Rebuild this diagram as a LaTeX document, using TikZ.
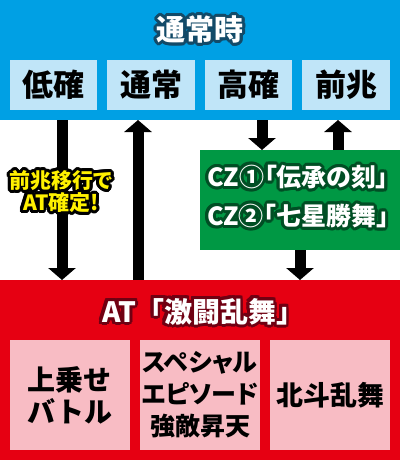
\documentclass[tikz,border=0pt]{standalone}
\usepackage{fontspec}
\usepackage{contour}
\usetikzlibrary{arrows.meta}
\newfontfamily\jp{Noto Sans CJK JP}
\definecolor{bandblue}{RGB}{0,160,228}
\definecolor{boxblue}{RGB}{192,229,248}
\definecolor{bandred}{RGB}{230,0,18}
\definecolor{boxpink}{RGB}{248,188,196}
\definecolor{czgreen}{RGB}{0,152,68}
\definecolor{outblue}{RGB}{18,74,104}
\definecolor{outred}{RGB}{112,0,18}
\definecolor{outgreen}{RGB}{0,78,36}
\definecolor{cyellow}{RGB}{255,241,0}
\contourlength{3pt}
\contournumber{16}
\newcommand{\fsz}[1]{\fontsize{#1}{#1}\selectfont}
\begin{document}
\begin{tikzpicture}[x=1pt,y=-1pt,font=\jp\bfseries,
		panel/.style={anchor=north west,inner sep=0pt,outer sep=0pt},
		subbox/.style={panel,align=center,minimum height=#1},
		arr/.style={line width=11pt,-{Triangle[width=27pt,length=12pt]}}]
		\useasboundingbox (0,0) rectangle (400,460);
		\fill[color=white] (0,0) rectangle (400,460);
		% bands
		\node[panel,fill=bandblue,minimum width=400pt,minimum height=120pt] (normal) at (0,0) {};
		\node[panel,fill=bandred,minimum width=400pt,minimum height=180pt] (at) at (0,280) {};
		\node[panel,fill=czgreen,minimum width=200pt,minimum height=100pt] (cz) at (200,150) {};
		% titles
		\node[text=white,font=\jp\bfseries\fsz{29}] (normaltitle) at (200,31) {\contour{outblue}{通常時}};
		\node[text=white,font=\jp\bfseries\fsz{28}] (attitle) at (203,313) {\contour{outred}{AT「激闘乱舞」}};
		\node[text=white,align=center,font=\jp\bfseries\fsz{25}\addfontfeatures{RawFeature=+palt}] (cztitle) at (298,198)
			{\contour{outgreen}{CZ①「伝承の刻」}\\[11pt]\contour{outgreen}{CZ②「七星勝舞」}};
		% normal modes
		\begin{scope}[font=\jp\bfseries\fsz{31}]
			\node[subbox=50pt,fill=boxblue,minimum width=87pt] (low) at (10,60) {低確};
			\node[subbox=50pt,fill=boxblue,minimum width=88pt] (norm) at (107,60) {通常};
			\node[subbox=50pt,fill=boxblue,minimum width=87pt] (high) at (205,60) {高確};
			\node[subbox=50pt,fill=boxblue,minimum width=88pt] (omen) at (302,60) {前兆};
		\end{scope}
		% at contents
		\node[subbox=110pt,fill=boxpink,minimum width=120pt,font=\jp\bfseries\fsz{28}] (stack) at (10,340) {上乗せ\\[4pt]バトル};
		\node[subbox=110pt,fill=boxpink,minimum width=120pt,font=\jp\bfseries\fsz{25}\addfontfeatures{RawFeature=+palt}] (episode) at (140,340) {スペシャル\\[7pt]エピソード\\[7pt]強敵昇天};
		\node[subbox=110pt,fill=boxpink,minimum width=120pt,font=\jp\bfseries\fsz{27}] (hokuto) at (270,340) {北斗乱舞};
		% transitions
		\draw[arr] ([xshift=62pt]normal.south west) -- ([xshift=62pt]at.north west);
		\draw[arr] ([xshift=138pt]at.north west) -- ([xshift=138pt]normal.south west);
		\draw[arr] ([xshift=262pt]normal.south west) -- ([xshift=62pt]cz.north west);
		\draw[arr] ([xshift=138pt]cz.north west) -- ([xshift=338pt]normal.south west);
		\draw[arr] (cz.south) -- (cz.south |- at.north);
		\node[text=cyellow,align=center,font=\jp\bfseries\fsz{21}\addfontfeatures{RawFeature=+palt}] (omenlabel) at (61,193)
			{\contour{black}{前兆移行で}\\[-2pt]\contour{black}{AT確定!}};
	\end{tikzpicture}
\end{document}
